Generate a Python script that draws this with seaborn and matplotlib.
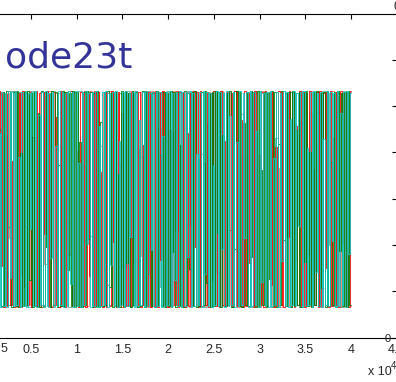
import matplotlib
matplotlib.use("Agg")
import matplotlib.pyplot as plt
import numpy as np
import pandas as pd
import seaborn as sns

# solver trace components (peaks / troughs in turn)
red_vals = [1.15, -1.17, 1.14, -1.16, 0.82, -1.17, 1.15, -1.15, 1.16, -0.73,
            1.15, -1.17, 1.13, -1.16, 1.16, -1.15, 0.41, -1.17, 1.15, -1.16,
            1.14, -1.17, 1.16, -0.95, 1.15, -1.15, 1.15, -1.17, 0.67, -1.16,
            1.16, -1.16, 1.14, -1.17, 1.15, -0.38, 1.16, -1.16, 1.13, -1.17,
            1.15, -1.15, 0.88, -1.17, 1.16, -1.16, 1.15, -1.17, 1.14, -0.61,
            1.16, -1.16, 1.15, -1.15, 0.52, -1.17, 1.15, -1.16, 1.16, -1.17,
            1.14, -0.84, 1.15, -1.17, 1.16, -1.15, 1.15, -1.16, 0.29, -1.17,
            1.15, -1.17, 1.14, -1.16, 1.16, -0.47, 1.15, -1.17, 1.15, -1.15,
            0.93, -1.17, 1.16, -1.16, 1.14, -1.17, 1.15, -0.70, 1.16, -1.16,
            1.15, -1.17, 0.58, -1.15, 1.16, -1.16, 1.15, -1.17, 1.14, -1.16,
            1.16, -1.17, 1.15, -0.66, 1.16, -1.16, 1.14, -1.17, 0.74, -1.16,
            1.15, -1.15, 1.16, -1.17, 1.15,
            -1.16, 1.15, -1.17, 0.71, -1.16, 1.14, -1.15, 1.16, -0.52, 1.15,
            -1.17, 1.16, -1.16, 0.39, -1.15, 1.15, -1.17, 1.14, -0.88, 1.16,
            -1.16, 1.15, -1.17, 1.16, -1.15, 0.62, -1.16, 1.15, -0.34, 1.14,
            -1.17, 1.16, -1.16, 1.15, -1.15, 0.85, -1.17, 1.16, -1.16, 1.14,
            -0.69, 1.15, -1.17, 1.16, -1.16, 0.47, -1.15, 1.15, -1.17, 1.16,
            -1.16, 1.14, -0.93, 1.15, -1.17, 0.56, -1.16, 1.16, -1.15, 1.15,
            -1.17, 1.14, -0.41, 1.16, -1.16, 1.15, -1.17, 0.78, -1.15, 1.16,
            -1.16, 1.15, -1.17, 1.14, -0.60, 1.16, -1.16, 0.32, -1.15, 1.15,
            -1.17, 1.16, -1.16, 1.14, -0.75, 1.15, -1.17, 1.16, -1.16, 0.66,
            -1.15, 1.15, -1.17, 1.16, -0.48, 1.14, -1.16, 1.15, -1.17, 1.16]
green_vals = [-1.16, 1.15, -1.17, 1.14, -0.66, 1.16, -1.16, 1.15, -1.17, 0.74,
              -1.16, 1.15, -1.15, 1.16, -0.31, 1.14, -1.17, 1.15, -1.16, 1.16,
              -1.17, 0.49, -1.16, 1.15, -1.15, 1.16, -0.88, 1.14, -1.17, 1.15,
              -1.16, 0.92, -1.17, 1.16, -1.16, 1.15, -0.52, 1.14, -1.17, 1.16,
              -1.15, 1.15, -1.17, 0.36, -1.16, 1.16, -1.17, 1.15, -0.77, 1.14,
              -1.16, 1.16, -1.17, 1.15, -1.16, 0.61, -1.17, 1.15, -1.15, 1.16,
              -0.44, 1.15, -1.17, 1.14, -1.16, 1.16, -1.17, 0.83, -1.16, 1.15,
              -1.15, 1.16, -0.95, 1.14, -1.17, 1.15, -1.16, 0.27, -1.17, 1.16,
              -1.16, 1.15, -0.69, 1.14, -1.17, 1.16, -1.15, 1.15, -1.17, 0.55,
              -1.16, 1.16, -1.17, 1.15, -0.81, 1.14, -1.16, 1.15, -1.17, 1.16,
              -1.15, 0.47, -1.16, 1.15, -1.17, 1.14, -1.16, 1.16, -0.58, 1.15,
              -1.17,
              1.15, -1.16, 0.58, -1.17, 1.16, -1.15, 1.14, -0.76, 1.15, -1.16,
              1.16, -1.17, 0.43, -1.16, 1.15, -1.15, 1.16, -0.91, 1.14, -1.17,
              1.15, -1.16, 1.16, -0.37, 1.15, -1.17, 0.69, -1.16, 1.14, -1.15,
              1.16, -1.17, 1.15, -0.54, 1.16, -1.16, 1.15, -1.17, 0.82, -1.15,
              1.14, -1.16, 1.16, -0.63, 1.15, -1.17, 1.16, -1.16, 0.31, -1.15,
              1.15, -1.17, 1.14, -0.87, 1.16, -1.16, 1.15, -1.17, 0.59, -1.15,
              1.16, -0.45, 1.14, -1.16, 1.15, -1.17, 1.16, -1.16, 0.74, -1.15,
              1.15, -1.17, 1.14, -0.68, 1.16, -1.16, 0.50, -1.17, 1.15, -1.15,
              1.16, -1.16, 1.14, -0.96, 1.15, -1.17, 1.16, -1.16, 0.40, -1.15,
              1.15, -1.17, 1.16, -0.57, 1.14, -1.16, 1.15, -1.17, 1.16, -1.15]
cyan_vals = [1.14, -1.15, 1.16, -1.17, 1.15, -0.58, 1.16, -1.16, 0.71, -1.17,
             1.15, -1.16, 1.14, -1.17, 1.16, -0.86, 1.15, -1.16, 1.16, -1.15,
             0.45, -1.17, 1.15, -1.16, 1.16, -1.17, 1.14, -0.33, 1.15, -1.16,
             1.16, -1.17, 0.90, -1.15, 1.15, -1.17, 1.16, -1.16, 1.14, -0.64,
             1.15, -1.17, 0.57, -1.16, 1.16, -1.15, 1.15, -1.17, 1.14, -1.16,
             1.16, -0.92, 1.15, -1.17, 1.16, -1.16, 0.38, -1.17, 1.15, -1.15,
             1.16, -0.49, 1.14, -1.17, 1.15, -1.16, 1.16, -1.17, 0.79, -1.16,
             1.15, -1.15, 1.16, -1.17, 1.14, -0.72, 1.15, -1.16, 1.16, -1.17,
             0.62, -1.15, 1.15, -1.17, 1.16, -1.16, 1.14, -0.41, 1.15, -1.17,
             1.16, -1.16, 0.85, -1.15, 1.15, -1.17, 1.16, -1.16, 1.14, -0.56,
             1.15, -1.17, 1.16, -1.16, 1.15, -1.17, 0.68, -1.16, 1.15, -1.15,
             1.16, -1.17, 1.14, -0.88, 1.15, -1.16, 1.16, -1.17, 1.15,
             -1.16, 1.15, -0.63, 1.16, -1.17, 1.14, -1.16, 0.48, -1.15, 1.15,
             -1.17, 1.16, -0.81, 1.15, -1.16, 1.14, -1.17, 0.36, -1.15, 1.16,
             -1.16, 1.15, -0.54, 1.14, -1.17, 1.16, -1.16, 0.89, -1.15, 1.15,
             -1.17, 0.61, -1.16, 1.16, -1.15, 1.14, -0.42, 1.15, -1.17, 1.16,
             -1.16, 1.15, -1.15, 0.73, -1.17, 1.16, -0.90, 1.14, -1.16, 1.15,
             -1.17, 1.16, -1.16, 0.44, -1.15, 1.15, -1.17, 1.14, -0.67, 1.16,
             -1.16, 1.15, -1.17, 0.86, -1.15, 1.16, -1.16, 1.14, -0.30, 1.15,
             -1.17, 1.16, -1.16, 0.55, -1.15, 1.15, -1.17, 1.16, -0.79, 1.14,
             -1.16, 1.15, -1.17, 0.64, -1.15, 1.16, -1.16, 1.15, -0.46, 1.14,
             -1.17, 1.16, -1.16, 0.92, -1.15, 1.15, -1.17, 1.16, -0.60, 1.14]
salmon_vals = [-1.15, 1.16, -1.17, 0.63, -1.16, 1.15, -1.15, 1.14, -0.42, 1.16,
               -1.17, 1.15, -1.16, 1.16, -1.15, 0.87, -1.17, 1.15, -0.71, 1.16,
               -1.16, 1.14, -1.17, 1.15, -0.26, 1.16, -1.15, 1.15, -1.17, 0.54,
               -1.16, 1.16, -1.17, 1.15, -1.15, 1.14, -0.93, 1.16, -1.16, 0.39,
               -1.17, 1.15, -1.16, 1.16, -1.15, 1.15, -0.62, 1.14, -1.17, 1.16,
               -1.16, 0.76, -1.15, 1.15, -1.17, 1.16, -0.35, 1.14, -1.16, 1.15,
               -1.17, 1.16, -1.15, 0.48, -1.16, 1.15, -1.17, 1.14, -0.80, 1.16,
               -1.16, 1.15, -1.15, 1.16, -1.17, 0.91, -1.16, 1.15, -0.53, 1.14,
               -1.17, 1.16, -1.16, 1.15, -1.15, 0.33, -1.17, 1.16, -1.16, 1.15,
               -0.67, 1.14, -1.17, 1.15, -1.16, 1.16, -1.15, 0.59, -1.17, 1.15,
               -1.16, 1.16, -0.45, 1.14, -1.17, 1.15, -1.16]
teal_vals = [1.16, -0.52, 1.15, -1.16, 1.14, -1.17, 0.69, -1.15, 1.16, -1.16,
             1.15, -0.83, 1.14, -1.17, 1.16, -1.16, 0.34, -1.15, 1.15, -1.17,
             1.16, -0.61, 1.14, -1.16, 1.15, -1.17, 0.88, -1.15, 1.16, -1.16,
             1.15, -0.40, 1.14, -1.17, 0.57, -1.16, 1.16, -1.15, 1.15, -1.17,
             1.14, -0.74, 1.16, -1.16, 1.15, -1.17, 0.46, -1.15, 1.16, -1.16,
             1.14, -0.95, 1.15, -1.17, 1.16, -1.16, 0.72, -1.15, 1.15, -1.17,
             1.16, -0.29, 1.14, -1.16, 1.15, -1.17, 0.81, -1.15, 1.16, -1.16,
             1.15, -0.58, 1.14, -1.17, 1.16, -1.16, 0.43, -1.15, 1.15, -1.17,
             1.16, -0.86, 1.14, -1.16, 1.15, -1.17, 0.65, -1.15, 1.16, -1.16,
             1.15, -0.37, 1.14, -1.17, 1.16, -1.16, 0.92, -1.15, 1.15, -1.17,
             1.16, -0.50, 1.14, -1.16, 1.15, -1.17, 1.16, -1.15, 1.15]
series_names = ['red', 'green', 'cyan', 'salmon', 'teal']
series_colors = ['#ff0000', '#008000', '#10c8c8', '#f07a6a', '#5fb0a0']
series_steps = ['steps-mid', 'steps-pre', 'steps-mid', 'steps-pre', 'steps-mid']
t_end = 40000

x_ticks = [0, 5000, 10000, 15000, 20000, 25000, 30000, 35000, 40000, 45000]
x_labels = ['0', '0.5', '1', '1.5', '2', '2.5', '3', '3.5', '4', '4.5']
y_ticks = [-1.5, -1.0, -0.5, 0.0, 0.5, 1.0, 1.5, 2.0]

sns.set_style('white')
plt.rcParams['font.family'] = ['Liberation Sans', 'DejaVu Sans']

all_vals = [red_vals, green_vals, cyan_vals, salmon_vals, teal_vals]
frames = []
for name, vals in zip(series_names, all_vals):
    frames.append(pd.DataFrame({'t': np.linspace(0, t_end, len(vals)),
                                'y': vals, 'series': name}))
df = pd.concat(frames, ignore_index=True)

fig = plt.figure(figsize=(3.96, 3.82), dpi=100)
ax = fig.add_axes([-14.7 / 396, (382 - 337.5) / 382, 411.4 / 396, 324 / 382])

# lighter components first, the strong colours on top
for name in ['salmon', 'teal', 'red', 'green', 'cyan']:
    i = series_names.index(name)
    sub = df[df['series'] == name]
    sns.lineplot(data=sub, x='t', y='y', color=series_colors[i], lw=0.6,
                 drawstyle=series_steps[i], sort=False, estimator=None,
                 ax=ax, legend=False)

ax.set_xlim(0, 45000)
ax.set_ylim(-1.5, 2.0)
ax.set_xticks(x_ticks)
ax.set_xticklabels(x_labels)
ax.set_yticks(y_ticks)
ax.set_xlabel('')
ax.set_ylabel('')
for sp in ax.spines.values():
    sp.set_visible(True)
    sp.set_color('black')
    sp.set_linewidth(0.8)
ax.tick_params(direction='in', length=3.5, width=0.8, color='black',
               top=True, right=True, labelsize=9, pad=5)

fig.text(5 / 396, (382 - 67) / 382, 'ode23t', color='#333399',
         fontsize=26, family='DejaVu Sans', va='baseline', ha='left')

# bits of neighbouring labels at the edges
fig.text(1 / 396, (382 - 349) / 382, '5', fontsize=9, va='center', ha='left')
fig.text(385 / 396, (382 - 339) / 382, '0', fontsize=8, va='center', ha='left')
fig.text(393 / 396, (382 - 7) / 382, '0', fontsize=9, va='center', ha='left')
fig.text(368 / 396, (382 - 372) / 382, 'x 10', fontsize=9, va='center', ha='left')
fig.text(391 / 396, (382 - 366) / 382, '4', fontsize=7, va='center', ha='left')

fig.savefig('out.png', dpi=100)
